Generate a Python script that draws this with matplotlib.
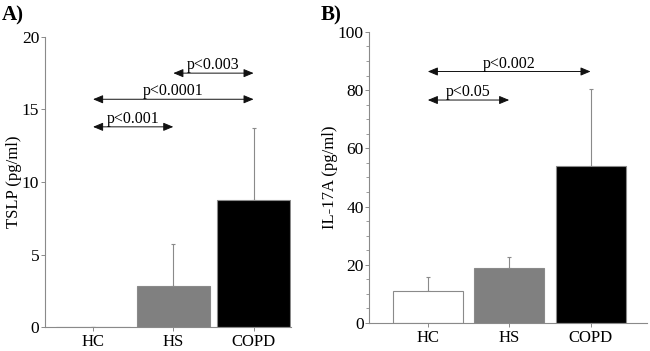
import numpy as np
import matplotlib
matplotlib.use("Agg")
import matplotlib.pyplot as plt
from matplotlib.ticker import MultipleLocator

plt.rcParams['font.family'] = ['Liberation Serif', 'DejaVu Serif']

groups = ['HC', 'HS', 'COPD']
bar_colors = ['white', '#808080', 'black']

# panel A: TSLP
tslp_mean = [0.0, 2.8, 8.75]
tslp_err = [0.0, 2.95, 4.95]
tslp_pairs = [(0, 1, 13.8, 'p<0.001'), (0, 2, 15.7, 'p<0.0001'), (1, 2, 17.5, 'p<0.003')]

# panel B: IL-17A
il17_mean = [11.0, 19.0, 54.0]
il17_err = [4.8, 3.5, 26.5]
il17_pairs = [(0, 1, 76.6, 'p<0.05'), (0, 2, 86.4, 'p<0.002')]

fig = plt.figure(figsize=(6.5, 3.51), dpi=100)
axA = fig.add_axes([0.069, 0.068, 0.378, 0.827])
axB = fig.add_axes([0.568, 0.080, 0.427, 0.829])

spine_col = '#8a8a8a'


def draw_panel(ax, means, errs, pairs, width, ylim, ystep, minor, ylabel, xlim):
    x = np.arange(len(groups))
    ax.bar(x, means, width=width, color=bar_colors, edgecolor=spine_col, linewidth=0.8, zorder=2)
    ax.errorbar(x, means, yerr=[np.zeros(len(errs)), errs], fmt='none',
                ecolor=spine_col, elinewidth=0.8, capsize=1.5, capthick=0.8, zorder=1)
    for i, j, y, txt in pairs:
        ax.annotate('', xy=(x[j], y), xytext=(x[i], y),
                    arrowprops=dict(arrowstyle='<|-|>,head_length=0.6,head_width=0.25',
                                    color='#111111', lw=0.7, shrinkA=0, shrinkB=0))
        ax.text((x[i] + x[j]) / 2, y, txt, ha='center', va='bottom', fontsize=11.5)
    ax.set_xlim(*xlim)
    ax.set_ylim(*ylim)
    ax.yaxis.set_major_locator(MultipleLocator(ystep))
    if minor:
        ax.yaxis.set_minor_locator(MultipleLocator(minor))
    ax.set_xticks(x)
    ax.set_xticklabels(groups)
    ax.set_ylabel(ylabel, fontsize=12, labelpad=0)
    for s in ['top', 'right']:
        ax.spines[s].set_visible(False)
    for s in ['left', 'bottom']:
        ax.spines[s].set_color(spine_col)
        ax.spines[s].set_linewidth(0.8)
    ax.tick_params(axis='both', which='major', length=3, width=0.7, color=spine_col,
                   labelsize=12.5, pad=1)
    ax.tick_params(axis='y', which='minor', length=2, width=0.6, color=spine_col)
    ax.tick_params(axis='x', pad=2, labelsize=12)


draw_panel(axA, tslp_mean, tslp_err, tslp_pairs, 0.91, (0, 20), 5, None,
           'TSLP (pg/ml)', (-0.6, 2.46))
draw_panel(axB, il17_mean, il17_err, il17_pairs, 0.86, (0, 100), 20, 5,
           'IL-17A (pg/ml)', (-0.72, 2.69))

fig.text(0.003, 0.955, 'A)', fontsize=15, fontweight='bold', va='center')
fig.text(0.494, 0.955, 'B)', fontsize=15, fontweight='bold', va='center')

fig.savefig('out.png', dpi=100)
